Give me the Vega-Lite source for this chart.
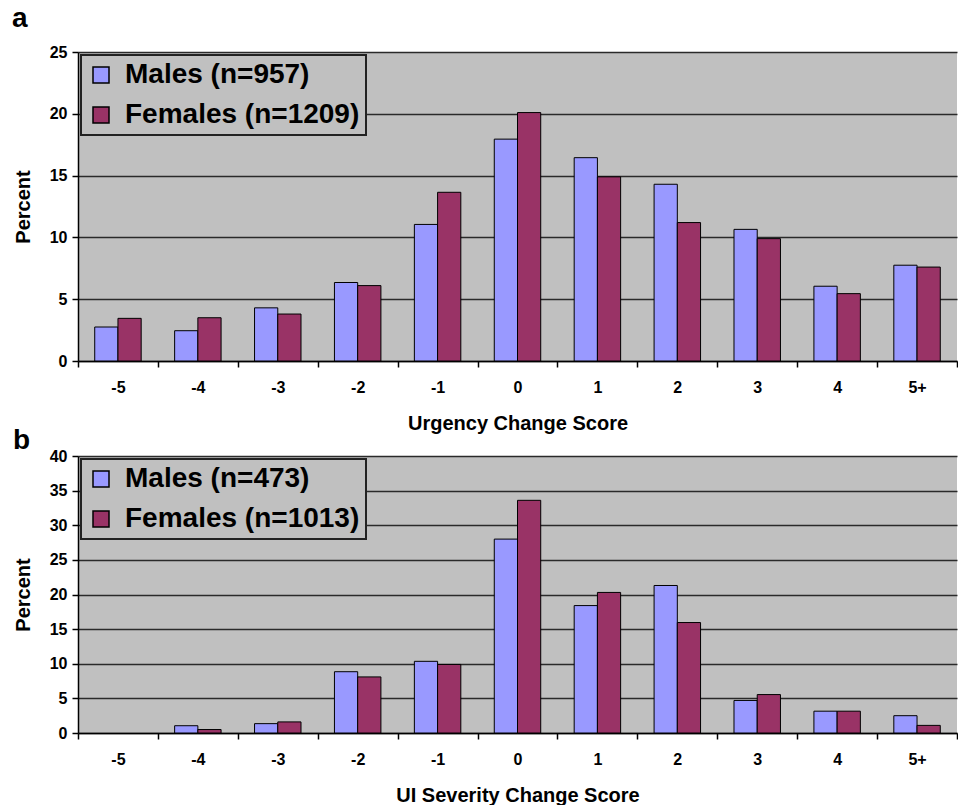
{
  "$schema": "https://vega.github.io/schema/vega-lite/v6.json",
  "padding": {"left": 12, "top": 5, "right": 0, "bottom": 0},
  "background": "white",
  "spacing": -6,
  "datasets": {
    "urgency": [
      {"score": "-5", "sex": "Males (n=957)", "pct": 2.75},
      {"score": "-5", "sex": "Females (n=1209)", "pct": 3.45},
      {"score": "-4", "sex": "Males (n=957)", "pct": 2.45},
      {"score": "-4", "sex": "Females (n=1209)", "pct": 3.5},
      {"score": "-3", "sex": "Males (n=957)", "pct": 4.3},
      {"score": "-3", "sex": "Females (n=1209)", "pct": 3.8},
      {"score": "-2", "sex": "Males (n=957)", "pct": 6.35},
      {"score": "-2", "sex": "Females (n=1209)", "pct": 6.1},
      {"score": "-1", "sex": "Males (n=957)", "pct": 11.05},
      {"score": "-1", "sex": "Females (n=1209)", "pct": 13.65},
      {"score": "0", "sex": "Males (n=957)", "pct": 17.95},
      {"score": "0", "sex": "Females (n=1209)", "pct": 20.1},
      {"score": "1", "sex": "Males (n=957)", "pct": 16.45},
      {"score": "1", "sex": "Females (n=1209)", "pct": 14.9},
      {"score": "2", "sex": "Males (n=957)", "pct": 14.3},
      {"score": "2", "sex": "Females (n=1209)", "pct": 11.2},
      {"score": "3", "sex": "Males (n=957)", "pct": 10.65},
      {"score": "3", "sex": "Females (n=1209)", "pct": 9.9},
      {"score": "4", "sex": "Males (n=957)", "pct": 6.05},
      {"score": "4", "sex": "Females (n=1209)", "pct": 5.45},
      {"score": "5+", "sex": "Males (n=957)", "pct": 7.75},
      {"score": "5+", "sex": "Females (n=1209)", "pct": 7.6}
    ],
    "severity": [
      {"score": "-4", "sex": "Males (n=473)", "pct": 1.05},
      {"score": "-4", "sex": "Females (n=1013)", "pct": 0.5},
      {"score": "-3", "sex": "Males (n=473)", "pct": 1.35},
      {"score": "-3", "sex": "Females (n=1013)", "pct": 1.6},
      {"score": "-2", "sex": "Males (n=473)", "pct": 8.85},
      {"score": "-2", "sex": "Females (n=1013)", "pct": 8.1},
      {"score": "-1", "sex": "Males (n=473)", "pct": 10.35},
      {"score": "-1", "sex": "Females (n=1013)", "pct": 9.9},
      {"score": "0", "sex": "Males (n=473)", "pct": 28.0},
      {"score": "0", "sex": "Females (n=1013)", "pct": 33.6},
      {"score": "1", "sex": "Males (n=473)", "pct": 18.4},
      {"score": "1", "sex": "Females (n=1013)", "pct": 20.3},
      {"score": "2", "sex": "Males (n=473)", "pct": 21.3},
      {"score": "2", "sex": "Females (n=1013)", "pct": 15.95},
      {"score": "3", "sex": "Males (n=473)", "pct": 4.7},
      {"score": "3", "sex": "Females (n=1013)", "pct": 5.55},
      {"score": "4", "sex": "Males (n=473)", "pct": 3.15},
      {"score": "4", "sex": "Females (n=1013)", "pct": 3.15},
      {"score": "5+", "sex": "Males (n=473)", "pct": 2.5},
      {"score": "5+", "sex": "Females (n=1013)", "pct": 1.1}
    ]
  },
  "resolve": {"scale": {"color": "independent", "x": "independent", "y": "independent", "xOffset": "independent"}},
  "vconcat": [
    {
      "title": {"text": "a", "dx": -66, "offset": 11},
      "width": 879,
      "height": 309,
      "data": {"name": "urgency"},
      "mark": {"type": "bar", "stroke": "black", "strokeWidth": 1},
      "encoding": {
        "x": {
          "field": "score", "type": "nominal",
          "scale": {"domain": ["-5","-4","-3","-2","-1","0","1","2","3","4","5+"], "paddingInner": 0, "paddingOuter": 0},
          "axis": {"title": "Urgency Change Score"}
        },
        "xOffset": {
          "field": "sex", "type": "nominal",
          "scale": {"domain": ["Males (n=957)", "Females (n=1209)"], "paddingInner": 0, "paddingOuter": 0.72}
        },
        "y": {
          "field": "pct", "type": "quantitative",
          "scale": {"domain": [0, 25], "nice": false},
          "axis": {"title": "Percent", "values": [0, 5, 10, 15, 20, 25]}
        },
        "color": {
          "field": "sex", "type": "nominal",
          "scale": {"domain": ["Males (n=957)", "Females (n=1209)"], "range": ["#9999FF", "#993366"]},
          "legend": {"title": null}
        }
      }
    },
    {
      "title": {"text": "b", "dx": -65, "offset": -7},
      "width": 879,
      "height": 277,
      "data": {"name": "severity"},
      "mark": {"type": "bar", "stroke": "black", "strokeWidth": 1},
      "encoding": {
        "x": {
          "field": "score", "type": "nominal",
          "scale": {"domain": ["-5","-4","-3","-2","-1","0","1","2","3","4","5+"], "paddingInner": 0, "paddingOuter": 0},
          "axis": {"title": "UI Severity Change Score"}
        },
        "xOffset": {
          "field": "sex", "type": "nominal",
          "scale": {"domain": ["Males (n=473)", "Females (n=1013)"], "paddingInner": 0, "paddingOuter": 0.72}
        },
        "y": {
          "field": "pct", "type": "quantitative",
          "scale": {"domain": [0, 40], "nice": false},
          "axis": {"title": "Percent", "values": [0, 5, 10, 15, 20, 25, 30, 35, 40]}
        },
        "color": {
          "field": "sex", "type": "nominal",
          "scale": {"domain": ["Males (n=473)", "Females (n=1013)"], "range": ["#9999FF", "#993366"]},
          "legend": {"title": null}
        }
      }
    }
  ],
  "config": {
    "font": "Liberation Sans",
    "view": {"fill": "#C0C0C0", "stroke": null},
    "title": {"fontSize": 28, "fontWeight": "bold", "anchor": "start", "frame": "group", "baseline": "alphabetic", "color": "black", "font": "Liberation Sans"},
    "axis": {
      "labelFont": "Liberation Sans", "labelFontWeight": "bold", "labelFontSize": 16, "labelColor": "black",
      "titleFont": "Liberation Sans", "titleFontWeight": "bold", "titleFontSize": 20, "titleColor": "black",
      "domainColor": "black", "domainWidth": 1.5, "tickColor": "black", "tickWidth": 1.5, "tickSize": 6
    },
    "axisX": {"tickBand": "extent", "labelAngle": 0, "labelPadding": 12, "titlePadding": 18, "grid": false},
    "axisY": {"labelPadding": 5, "titlePadding": 16, "grid": true, "gridColor": "#2a2a2a", "gridWidth": 1.5, "gridOpacity": 1},
    "legend": {
      "orient": "top-left", "offset": 3, "padding": 6, "fillColor": "#C0C0C0", "strokeColor": "#222", "strokeWidth": 2,
      "symbolType": "square", "symbolSize": 256, "symbolStrokeColor": "black", "symbolStrokeWidth": 1.5, "symbolOpacity": 1,
      "labelFont": "Liberation Sans", "labelFontWeight": "bold", "labelFontSize": 28, "labelColor": "black", "labelLimit": 400,
      "labelOffset": 10, "rowPadding": 12
    }
  }
}
